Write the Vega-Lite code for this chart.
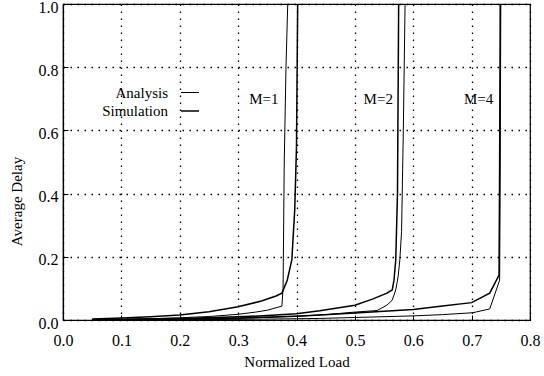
{
  "$schema": "https://vega.github.io/schema/vega-lite/v6.json",
  "autosize": "none",
  "width": 467,
  "height": 316,
  "padding": {"left": 63, "top": 4, "right": 14, "bottom": 56},
  "background": "white",
  "config": {
    "font": "Liberation Serif",
    "view": {"stroke": "black", "strokeWidth": 1.2},
    "axis": {
      "domainColor": "black",
      "domainWidth": 1.2,
      "tickColor": "black",
      "tickSize": -5,
      "gridColor": "black",
      "gridOpacity": 1,
      "gridDash": [1.5, 5.5],
      "gridWidth": 1.3,
      "labelColor": "black",
      "titleColor": "black"
    },
    "legend": {
      "orient": "none",
      "legendX": 117,
      "legendY": 79,
      "padding": 0,
      "symbolType": "stroke",
      "symbolSize": 324,
      "symbolStrokeColor": "black",
      "rowPadding": 0,
      "labelAlign": "right",
      "labelOffset": -32,
      "labelFont": "Liberation Serif",
      "labelFontSize": 15,
      "labelColor": "black"
    }
  },
  "datasets": {
    "curves": [
      {"M": "M=1", "type": "Simulation", "load": 0.05, "delay": 0.003},
      {"M": "M=1", "type": "Simulation", "load": 0.10, "delay": 0.006},
      {"M": "M=1", "type": "Simulation", "load": 0.15, "delay": 0.010},
      {"M": "M=1", "type": "Simulation", "load": 0.20, "delay": 0.016},
      {"M": "M=1", "type": "Simulation", "load": 0.25, "delay": 0.026},
      {"M": "M=1", "type": "Simulation", "load": 0.30, "delay": 0.042},
      {"M": "M=1", "type": "Simulation", "load": 0.34, "delay": 0.060},
      {"M": "M=1", "type": "Simulation", "load": 0.365, "delay": 0.076},
      {"M": "M=1", "type": "Simulation", "load": 0.375, "delay": 0.085},
      {"M": "M=1", "type": "Simulation", "load": 0.384, "delay": 0.125},
      {"M": "M=1", "type": "Simulation", "load": 0.392, "delay": 0.19},
      {"M": "M=1", "type": "Simulation", "load": 0.397, "delay": 0.35},
      {"M": "M=1", "type": "Simulation", "load": 0.400, "delay": 0.55},
      {"M": "M=1", "type": "Simulation", "load": 0.402, "delay": 1.0},
      {"M": "M=1", "type": "Analysis", "load": 0.05, "delay": 0.001},
      {"M": "M=1", "type": "Analysis", "load": 0.10, "delay": 0.002},
      {"M": "M=1", "type": "Analysis", "load": 0.15, "delay": 0.004},
      {"M": "M=1", "type": "Analysis", "load": 0.20, "delay": 0.007},
      {"M": "M=1", "type": "Analysis", "load": 0.25, "delay": 0.011},
      {"M": "M=1", "type": "Analysis", "load": 0.30, "delay": 0.018},
      {"M": "M=1", "type": "Analysis", "load": 0.33, "delay": 0.025},
      {"M": "M=1", "type": "Analysis", "load": 0.35, "delay": 0.031},
      {"M": "M=1", "type": "Analysis", "load": 0.375, "delay": 0.044},
      {"M": "M=1", "type": "Analysis", "load": 0.377, "delay": 0.1},
      {"M": "M=1", "type": "Analysis", "load": 0.379, "delay": 0.5},
      {"M": "M=1", "type": "Analysis", "load": 0.382, "delay": 0.8},
      {"M": "M=1", "type": "Analysis", "load": 0.385, "delay": 1.0},
      {"M": "M=2", "type": "Simulation", "load": 0.05, "delay": 0.001},
      {"M": "M=2", "type": "Simulation", "load": 0.10, "delay": 0.002},
      {"M": "M=2", "type": "Simulation", "load": 0.20, "delay": 0.005},
      {"M": "M=2", "type": "Simulation", "load": 0.30, "delay": 0.010},
      {"M": "M=2", "type": "Simulation", "load": 0.35, "delay": 0.014},
      {"M": "M=2", "type": "Simulation", "load": 0.40, "delay": 0.020},
      {"M": "M=2", "type": "Simulation", "load": 0.44, "delay": 0.029},
      {"M": "M=2", "type": "Simulation", "load": 0.50, "delay": 0.047},
      {"M": "M=2", "type": "Simulation", "load": 0.53, "delay": 0.066},
      {"M": "M=2", "type": "Simulation", "load": 0.555, "delay": 0.085},
      {"M": "M=2", "type": "Simulation", "load": 0.564, "delay": 0.095},
      {"M": "M=2", "type": "Simulation", "load": 0.567, "delay": 0.126},
      {"M": "M=2", "type": "Simulation", "load": 0.570, "delay": 0.19},
      {"M": "M=2", "type": "Simulation", "load": 0.573, "delay": 0.4},
      {"M": "M=2", "type": "Simulation", "load": 0.575, "delay": 1.0},
      {"M": "M=2", "type": "Analysis", "load": 0.05, "delay": 0.0005},
      {"M": "M=2", "type": "Analysis", "load": 0.10, "delay": 0.001},
      {"M": "M=2", "type": "Analysis", "load": 0.20, "delay": 0.002},
      {"M": "M=2", "type": "Analysis", "load": 0.30, "delay": 0.005},
      {"M": "M=2", "type": "Analysis", "load": 0.40, "delay": 0.012},
      {"M": "M=2", "type": "Analysis", "load": 0.45, "delay": 0.017},
      {"M": "M=2", "type": "Analysis", "load": 0.50, "delay": 0.025},
      {"M": "M=2", "type": "Analysis", "load": 0.538, "delay": 0.030},
      {"M": "M=2", "type": "Analysis", "load": 0.555, "delay": 0.047},
      {"M": "M=2", "type": "Analysis", "load": 0.564, "delay": 0.063},
      {"M": "M=2", "type": "Analysis", "load": 0.570, "delay": 0.095},
      {"M": "M=2", "type": "Analysis", "load": 0.574, "delay": 0.136},
      {"M": "M=2", "type": "Analysis", "load": 0.577, "delay": 0.19},
      {"M": "M=2", "type": "Analysis", "load": 0.580, "delay": 0.28},
      {"M": "M=2", "type": "Analysis", "load": 0.583, "delay": 0.6},
      {"M": "M=2", "type": "Analysis", "load": 0.586, "delay": 1.0},
      {"M": "M=4", "type": "Simulation", "load": 0.05, "delay": 0.0005},
      {"M": "M=4", "type": "Simulation", "load": 0.10, "delay": 0.001},
      {"M": "M=4", "type": "Simulation", "load": 0.20, "delay": 0.003},
      {"M": "M=4", "type": "Simulation", "load": 0.30, "delay": 0.006},
      {"M": "M=4", "type": "Simulation", "load": 0.40, "delay": 0.012},
      {"M": "M=4", "type": "Simulation", "load": 0.44, "delay": 0.016},
      {"M": "M=4", "type": "Simulation", "load": 0.50, "delay": 0.022},
      {"M": "M=4", "type": "Simulation", "load": 0.60, "delay": 0.033},
      {"M": "M=4", "type": "Simulation", "load": 0.65, "delay": 0.044},
      {"M": "M=4", "type": "Simulation", "load": 0.70, "delay": 0.055},
      {"M": "M=4", "type": "Simulation", "load": 0.731, "delay": 0.085},
      {"M": "M=4", "type": "Simulation", "load": 0.747, "delay": 0.142},
      {"M": "M=4", "type": "Simulation", "load": 0.748, "delay": 0.5},
      {"M": "M=4", "type": "Simulation", "load": 0.749, "delay": 1.0},
      {"M": "M=4", "type": "Analysis", "load": 0.05, "delay": 0.0002},
      {"M": "M=4", "type": "Analysis", "load": 0.10, "delay": 0.0005},
      {"M": "M=4", "type": "Analysis", "load": 0.20, "delay": 0.001},
      {"M": "M=4", "type": "Analysis", "load": 0.30, "delay": 0.002},
      {"M": "M=4", "type": "Analysis", "load": 0.40, "delay": 0.004},
      {"M": "M=4", "type": "Analysis", "load": 0.44, "delay": 0.005},
      {"M": "M=4", "type": "Analysis", "load": 0.50, "delay": 0.008},
      {"M": "M=4", "type": "Analysis", "load": 0.60, "delay": 0.013},
      {"M": "M=4", "type": "Analysis", "load": 0.65, "delay": 0.017},
      {"M": "M=4", "type": "Analysis", "load": 0.702, "delay": 0.023},
      {"M": "M=4", "type": "Analysis", "load": 0.731, "delay": 0.035},
      {"M": "M=4", "type": "Analysis", "load": 0.748, "delay": 0.126},
      {"M": "M=4", "type": "Analysis", "load": 0.749, "delay": 0.5},
      {"M": "M=4", "type": "Analysis", "load": 0.750, "delay": 1.0}
    ],
    "labels": [
      {"label": "M=1", "load": 0.344, "delay": 0.70},
      {"label": "M=2", "load": 0.54, "delay": 0.70},
      {"label": "M=4", "load": 0.712, "delay": 0.70}
    ]
  },
  "layer": [
    {
      "data": {"name": "curves"},
      "mark": {"type": "line", "color": "black", "clip": true, "interpolate": "linear"},
      "encoding": {
        "x": {
          "field": "load", "type": "quantitative",
          "scale": {"domain": [0, 0.8], "nice": false},
          "axis": {
            "title": "Normalized Load",
            "values": [0, 0.1, 0.2, 0.3, 0.4, 0.5, 0.6, 0.7, 0.8],
            "format": ".1f",
            "labelFont": "Liberation Serif",
            "labelFontSize": 16,
            "labelPadding": 17,
            "labelFlush": false,
            "titleFont": "Liberation Serif",
            "titleFontSize": 15,
            "titleFontWeight": "normal",
            "titleBaseline": "alphabetic",
            "titleY": 46
          }
        },
        "y": {
          "field": "delay", "type": "quantitative",
          "scale": {"domain": [0, 1], "nice": false},
          "axis": {
            "title": "Average Delay",
            "values": [0, 0.2, 0.4, 0.6, 0.8, 1.0],
            "format": ".1f",
            "labelFont": "Liberation Serif",
            "labelFontSize": 16,
            "labelPadding": 10,
            "labelOffset": 3,
            "labelFlush": false,
            "titleFont": "Liberation Serif",
            "titleFontSize": 15,
            "titleFontWeight": "normal",
            "titleAngle": -90,
            "titleBaseline": "alphabetic",
            "titleAlign": "center",
            "titleX": -42,
            "titleY": 197
          }
        },
        "detail": {"field": "M", "type": "nominal"},
        "strokeWidth": {
          "field": "type", "type": "ordinal",
          "scale": {"domain": ["Analysis", "Simulation"], "range": [1, 1.5]},
          "legend": {
            "title": null,
            "symbolType": "stroke",
            "symbolStrokeColor": "black"
          }
        },
        "order": {"field": "load", "type": "quantitative"}
      }
    },
    {
      "data": {"name": "labels"},
      "mark": {"type": "text", "font": "Liberation Serif", "fontSize": 15, "color": "black", "align": "center", "baseline": "middle"},
      "encoding": {
        "x": {"field": "load", "type": "quantitative"},
        "y": {"field": "delay", "type": "quantitative"},
        "text": {"field": "label", "type": "nominal"}
      }
    }
  ]
}
